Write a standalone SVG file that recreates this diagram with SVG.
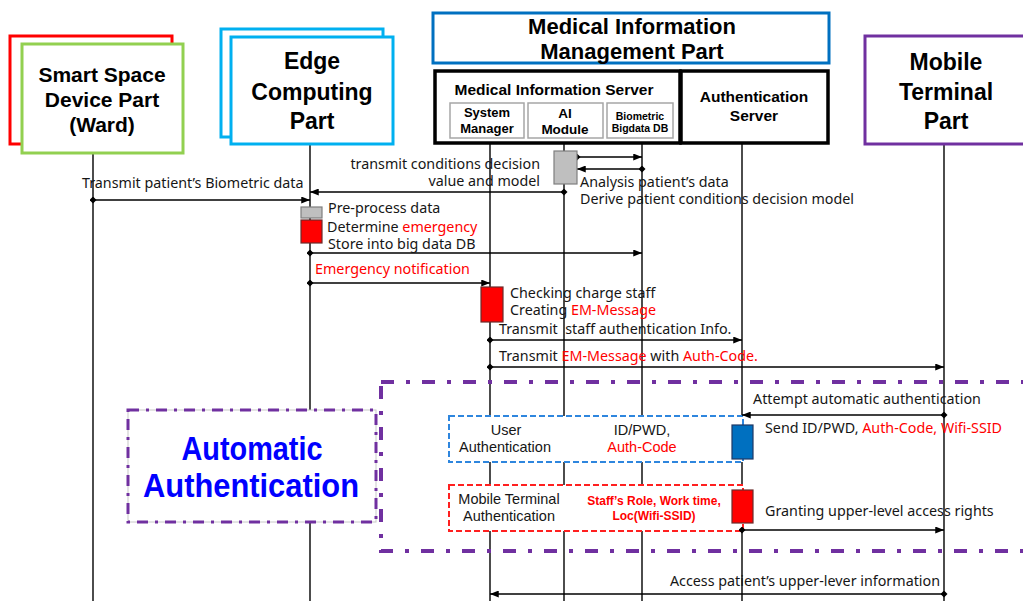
<svg xmlns="http://www.w3.org/2000/svg" width="1023" height="601" viewBox="0 0 1023 601">
  <defs>
    <style>
      text { font-family: "Liberation Sans", Arial, sans-serif; fill: #111; }
      .hd { font-weight: bold; text-anchor: middle; fill: #000; }
      .msg { font-family: "Noto Sans", "Liberation Sans", Arial, sans-serif; font-size: 14.3px; fill: #161616; }
      .box { font-family: "Liberation Sans", Arial, sans-serif; font-size: 14.5px; fill: #161616; text-anchor: middle; }
      .red { fill: #ff0000; }
      .life { stroke: #000; stroke-width: 1.4; fill: none; }
      .conn { stroke: #000; stroke-width: 1.3; fill: none; marker-start: url(#dia); marker-end: url(#arr); }
      .sub { fill: #fff; stroke: #a6a6a6; stroke-width: 1.5; }
      .actg { fill: #bfbfbf; stroke: #7f7f7f; stroke-width: 1.2; }
      .actr { fill: #ff0000; stroke: #6b2b2b; stroke-width: 1.2; }
      .actb { fill: #0070c0; stroke: #1f3864; stroke-width: 1.2; }
      .purple { fill: none; stroke: #7030a0; stroke-width: 4; stroke-dasharray: 13 12 4 12; }
    </style>
    <marker id="arr" viewBox="0 0 10 8" refX="10" refY="4" markerWidth="9" markerHeight="7" markerUnits="userSpaceOnUse" orient="auto">
      <path d="M0,0 L10,4 L0,8 z" fill="#000"/>
    </marker>
    <marker id="dia" viewBox="0 0 8 8" refX="4" refY="4" markerWidth="7" markerHeight="7" markerUnits="userSpaceOnUse" orient="auto">
      <path d="M4,0 L8,4 L4,8 L0,4 z" fill="#000"/>
    </marker>
  </defs>

  <rect width="1023" height="601" fill="#fff"/>

  <!-- lifelines -->
  <g id="lifelines">
    <line class="life" x1="93" y1="153" x2="93" y2="601"/>
    <line class="life" x1="310" y1="144" x2="310" y2="601"/>
    <line class="life" x1="490" y1="143" x2="490" y2="601"/>
    <line class="life" x1="564" y1="138" x2="564" y2="601"/>
    <line class="life" x1="642" y1="143" x2="642" y2="601"/>
    <line class="life" x1="742" y1="143" x2="742" y2="601"/>
    <line class="life" x1="944" y1="144" x2="944" y2="601"/>
  </g>

  <!-- participants -->
  <g id="smart-space">
    <rect x="10" y="36" width="162" height="108" fill="#fff" stroke="#ff0000" stroke-width="3"/>
    <rect x="22" y="44" width="161" height="109" fill="#fff" stroke="#92d050" stroke-width="3"/>
    <text class="hd" x="102" y="82" font-size="21">Smart Space</text>
    <text class="hd" x="102" y="107" font-size="21">Device Part</text>
    <text class="hd" x="102" y="132" font-size="21">(Ward)</text>
  </g>

  <g id="edge-computing">
    <rect x="221" y="29" width="162" height="108" fill="#fff" stroke="#00b0f0" stroke-width="3"/>
    <rect x="231" y="37" width="162" height="107" fill="#fff" stroke="#00b0f0" stroke-width="3"/>
    <text class="hd" x="312" y="69" font-size="23">Edge</text>
    <text class="hd" x="312" y="100" font-size="23">Computing</text>
    <text class="hd" x="312" y="129" font-size="23">Part</text>
  </g>

  <g id="medical-management">
    <rect x="433" y="13" width="396" height="50" fill="#fff" stroke="#0070c0" stroke-width="3"/>
    <text class="hd" x="632" y="34" font-size="22">Medical Information</text>
    <text class="hd" x="632" y="59" font-size="22">Management Part</text>
  </g>

  <g id="medical-server">
    <rect x="435" y="71" width="245" height="72" fill="#fff" stroke="#000" stroke-width="3.5"/>
    <text class="hd" x="554" y="95" font-size="15.5">Medical Information Server</text>
    <rect class="sub" x="450" y="103" width="74" height="35"/>
    <text class="hd" x="487" y="117" font-size="13">System</text>
    <text class="hd" x="487" y="133" font-size="13">Manager</text>
    <rect class="sub" x="528" y="103" width="75" height="35"/>
    <text class="hd" x="565" y="118" font-size="13.5">AI</text>
    <text class="hd" x="565" y="134" font-size="13.5">Module</text>
    <rect class="sub" x="607" y="103" width="66" height="35"/>
    <text class="hd" x="640" y="120" font-size="10.5">Biometric</text>
    <text class="hd" x="640" y="132" font-size="10.5">Bigdata DB</text>
  </g>

  <g id="auth-server">
    <rect x="681" y="71" width="147" height="72" fill="#fff" stroke="#000" stroke-width="3.5"/>
    <text class="hd" x="754" y="102" font-size="15.5">Authentication</text>
    <text class="hd" x="754" y="121" font-size="15.5">Server</text>
  </g>

  <g id="mobile-terminal">
    <rect x="865" y="36" width="162" height="108" fill="#fff" stroke="#7030a0" stroke-width="3"/>
    <text class="hd" x="946" y="70" font-size="23">Mobile</text>
    <text class="hd" x="946" y="100" font-size="23">Terminal</text>
    <text class="hd" x="946" y="129" font-size="23">Part</text>
  </g>

  <!-- automatic authentication region -->
  <g id="auto-auth-region">
    <rect class="purple" x="381" y="382" width="680" height="169"/>
    <rect x="128" y="410" width="248" height="112" fill="#fff" stroke="#c8c8c8" stroke-width="1"/>
    <rect x="128" y="410" width="248" height="112" fill="none" stroke="#7030a0" stroke-width="3" stroke-dasharray="11 7 3 7"/>
    <text x="252" y="460" font-size="33" font-weight="bold" text-anchor="middle" style="fill:#0000ff" textLength="141" lengthAdjust="spacingAndGlyphs">Automatic</text>
    <text x="251" y="497" font-size="33" font-weight="bold" text-anchor="middle" style="fill:#0000ff" textLength="216" lengthAdjust="spacingAndGlyphs">Authentication</text>
  </g>

  <g id="user-auth">
    <rect x="449" y="416" width="294" height="46" fill="#fff" stroke="#2e86de" stroke-width="2" stroke-dasharray="6 3"/>
    <text class="box" x="506" y="435">User</text>
    <text class="box" x="505" y="452">Authentication</text>
    <text class="box" x="642" y="435">ID/PWD,</text>
    <text class="box red" x="642" y="452">Auth-Code</text>
  </g>

  <g id="terminal-auth">
    <rect x="449" y="485" width="294" height="46" fill="#fff" stroke="#ff2020" stroke-width="2" stroke-dasharray="6 3"/>
    <text class="box" x="509" y="504">Mobile Terminal</text>
    <text class="box" x="509" y="521">Authentication</text>
    <text class="red" x="654" y="505" font-size="12" font-weight="bold" text-anchor="middle">Staff’s Role, Work time,</text>
    <text class="red" x="654" y="520" font-size="12" font-weight="bold" text-anchor="middle">Loc(Wifi-SSID)</text>
  </g>

  <!-- messages -->
  <g id="connectors">
    <line class="conn" x1="93" y1="200" x2="310" y2="200"/>
    <line class="conn" x1="564" y1="192" x2="310" y2="192"/>
    <line class="conn" x1="577" y1="157" x2="642" y2="157"/>
    <line class="conn" x1="642" y1="169" x2="577" y2="169"/>
    <line class="conn" x1="310" y1="253" x2="642" y2="253"/>
    <line class="conn" x1="310" y1="283" x2="490" y2="283"/>
    <line class="conn" x1="490" y1="340" x2="742" y2="340"/>
    <line class="conn" x1="490" y1="367" x2="944" y2="367"/>
    <line class="conn" x1="944" y1="415" x2="742" y2="415"/>
    <line class="conn" x1="742" y1="530" x2="944" y2="530"/>
    <line class="conn" x1="944" y1="594" x2="490" y2="594"/>
  </g>

  <!-- activations -->
  <g id="activations">
    <rect class="actg" x="554" y="151" width="23" height="33"/>
    <rect class="actg" x="301" y="207" width="21" height="11"/>
    <rect class="actr" x="301" y="220" width="21" height="23"/>
    <rect class="actr" x="481" y="287" width="22" height="35"/>
    <rect class="actb" x="732" y="425" width="21" height="34"/>
    <rect class="actr" x="732" y="490" width="21" height="33"/>
  </g>

  <!-- message labels -->
  <g id="labels">
    <text class="msg" x="82" y="188">Transmit patient’s Biometric data</text>
    <text class="msg" x="540" y="169" text-anchor="end">transmit conditions decision</text>
    <text class="msg" x="540" y="186" text-anchor="end">value and model</text>
    <text class="msg" x="580" y="187">Analysis patient’s data</text>
    <text class="msg" x="580" y="204">Derive patient conditions decision model</text>
    <text class="msg" x="328" y="213">Pre-process data</text>
    <text class="msg" x="327" y="232">Determine <tspan class="red">emergency</tspan></text>
    <text class="msg" x="328" y="249">Store into big data DB</text>
    <text class="msg red" x="315" y="274">Emergency notification</text>
    <text class="msg" x="510" y="298">Checking charge staff</text>
    <text class="msg" x="510" y="315">Creating <tspan class="red">EM-Message</tspan></text>
    <text class="msg" x="499" y="334" xml:space="preserve">Transmit  staff authentication Info.</text>
    <text class="msg" x="499" y="361">Transmit <tspan class="red">EM-Message</tspan> with <tspan class="red">Auth-Code.</tspan></text>
    <text class="msg" x="753" y="404">Attempt automatic authentication</text>
    <text class="msg" x="765" y="433">Send ID/PWD, <tspan class="red">Auth-Code, Wifi-SSID</tspan></text>
    <text class="msg" x="765" y="516">Granting upper-level access rights</text>
    <text class="msg" x="940" y="586" text-anchor="end">Access patient’s upper-lever information</text>
  </g>
</svg>
